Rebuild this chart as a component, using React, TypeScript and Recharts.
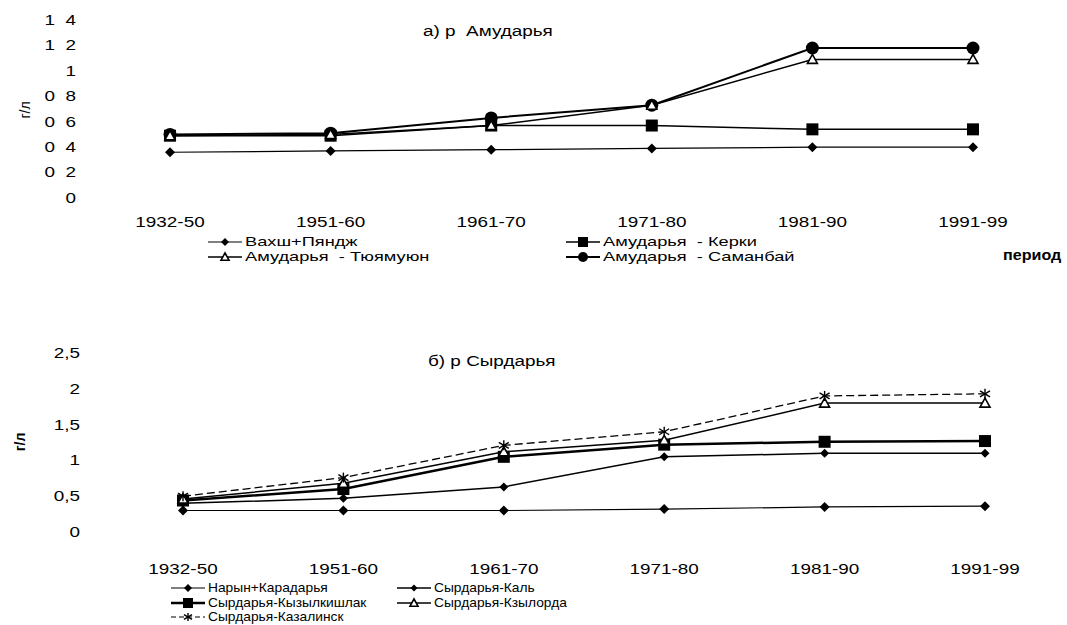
import React from "react";
import { Line, LineChart, XAxis, YAxis } from "recharts";

const periods = ["1932-50", "1951-60", "1961-70", "1971-80", "1981-90", "1991-99"];

// а) р. Амударья, г/л
const amuNames = ["Вахш+Пяндж", "Амударья  - Керки", "Амударья  - Тюямуюн", "Амударья  - Саманбай"];
const vakhshPyandzh = [0.36, 0.37, 0.38, 0.39, 0.4, 0.4];
const amuKerki = [0.49, 0.49, 0.57, 0.57, 0.54, 0.54];
const amuTyuyamuyun = [0.49, 0.5, 0.57, 0.73, 1.09, 1.09];
const amuSamanbai = [0.5, 0.51, 0.63, 0.73, 1.18, 1.18];
const amuTicks = [0, 0.2, 0.4, 0.6, 0.8, 1, 1.2, 1.4];
const amuTickLabels = ["0", "0 2", "0 4", "0 6", "0 8", "1", "1 2", "1 4"];

// б) р. Сырдарья, г/л
const syrNames = ["Нарын+Карадарья", "Сырдарья-Каль", "Сырдарья-Кызылкишлак", "Сырдарья-Кзылорда", "Сырдарья-Казалинск"];
const narynKaradarya = [0.3, 0.3, 0.3, 0.32, 0.35, 0.36];
const syrKal = [0.4, 0.47, 0.63, 1.05, 1.1, 1.1];
const syrKyzylkishlak = [0.44, 0.6, 1.05, 1.22, 1.26, 1.27];
const syrKzylorda = [0.46, 0.68, 1.12, 1.28, 1.8, 1.8];
const syrKazalinsk = [0.5, 0.76, 1.21, 1.4, 1.9, 1.93];
const syrTicks = [0, 0.5, 1, 1.5, 2, 2.5];
const syrTickLabels = ["0", "0,5", "1", "1,5", "2", "2,5"];

const amuData = periods.map((p, i) => ({
  period: p,
  a0: vakhshPyandzh[i],
  a1: amuKerki[i],
  a2: amuTyuyamuyun[i],
  a3: amuSamanbai[i]
}));

const syrData = periods.map((p, i) => ({
  period: p,
  s0: narynKaradarya[i],
  s1: syrKal[i],
  s2: syrKyzylkishlak[i],
  s3: syrKzylorda[i],
  s4: syrKazalinsk[i]
}));

const FONT = "'Liberation Sans', Arial, sans-serif";
const STRETCH = 1.35;

type Shape = "diamond" | "square" | "triangle" | "circle" | "star";

function Marker({ shape, cx, cy, s }: { shape: Shape; cx: number; cy: number; s: number }) {
  if (shape === "diamond") {
    return <path d={`M${cx},${cy - s}L${cx + s},${cy}L${cx},${cy + s}L${cx - s},${cy}Z`} fill="#000" />;
  }
  if (shape === "square") {
    return <rect x={cx - s} y={cy - s} width={s * 2} height={s * 2} fill="#000" />;
  }
  if (shape === "triangle") {
    return (
      <path
        d={`M${cx},${cy - s}L${cx + s},${cy + s * 0.8}L${cx - s},${cy + s * 0.8}Z`}
        fill="#fff"
        stroke="#000"
        strokeWidth={1.6}
      />
    );
  }
  if (shape === "circle") {
    return <circle cx={cx} cy={cy} r={s} fill="#000" />;
  }
  return (
    <g stroke="#000" strokeWidth={1.4}>
      <line x1={cx} y1={cy - s} x2={cx} y2={cy + s} />
      <line x1={cx - s} y1={cy - s * 0.6} x2={cx + s} y2={cy + s * 0.6} />
      <line x1={cx - s} y1={cy + s * 0.6} x2={cx + s} y2={cy - s * 0.6} />
    </g>
  );
}

const dotOf = (shape: Shape, s: number) => (p: any) =>
  <Marker key={`d-${p.index}`} shape={shape} cx={p.cx} cy={p.cy} s={s} />;

const XTick = ({ x, y, payload, dy }: any) => (
  <g transform={`translate(${x},${y + dy})`}>
    <text transform={`scale(${STRETCH},1)`} textAnchor="middle" fontFamily={FONT} fontSize={14} fill="#000">
      {payload.value}
    </text>
  </g>
);

const YTick = ({ x, y, payload, labels, ticks }: any) => {
  const idx = ticks.indexOf(payload.value);
  return (
    <g transform={`translate(${x},${y})`}>
      <text transform={`scale(${STRETCH},1)`} textAnchor="end" dy="0.35em" fontFamily={FONT} fontSize={14} fill="#000">
        {idx >= 0 ? labels[idx].replace(" ", "\u00a0\u00a0") : payload.value}
      </text>
    </g>
  );
};

const Stretched = ({
  children,
  style,
  scale = STRETCH
}: {
  children: React.ReactNode;
  style: React.CSSProperties;
  scale?: number;
}) => (
  <div
    style={{
      position: "absolute",
      fontFamily: FONT,
      fontSize: 13,
      lineHeight: "14px",
      whiteSpace: "pre",
      transform: `scaleX(${scale})`,
      transformOrigin: "left center",
      color: "#000",
      ...style
    }}
  >
    {children}
  </div>
);

interface LegendItem {
  name: string;
  shape: Shape;
  s: number;
  width: number;
  dash?: string;
}

const LegendRow = ({ item, left, top, scale }: { item: LegendItem; left: number; top: number; scale: number }) => (
  <>
    <svg style={{ position: "absolute", left, top: top - 7 }} width={36} height={14}>
      <line x1={1} y1={7} x2={35} y2={7} stroke="#000" strokeWidth={item.width} strokeDasharray={item.dash} />
      <Marker shape={item.shape} cx={18} cy={7} s={item.s} />
    </svg>
    <Stretched scale={scale} style={{ left: left + 38, top: top - 7, fontSize: 13.5 }}>
      {item.name}
    </Stretched>
  </>
);

const amuLegend: LegendItem[] = [
  { name: amuNames[0], shape: "diamond", s: 4, width: 1.2 },
  { name: amuNames[1], shape: "square", s: 5, width: 1.5 },
  { name: amuNames[2], shape: "triangle", s: 4, width: 1.5 },
  { name: amuNames[3], shape: "circle", s: 5, width: 2 }
];

const syrLegend: LegendItem[] = [
  { name: syrNames[0], shape: "diamond", s: 4, width: 1.2 },
  { name: syrNames[1], shape: "diamond", s: 3.5, width: 1.5 },
  { name: syrNames[2], shape: "square", s: 5, width: 2.5 },
  { name: syrNames[3], shape: "triangle", s: 4, width: 1.5 },
  { name: syrNames[4], shape: "star", s: 4, width: 1.2, dash: "5 3" }
];

export default function App() {
  return (
    <div style={{ position: "fixed", left: 0, top: 0, width: 1067, height: 625, background: "#fff" }}>
      {/* а) Амударья */}
      <div style={{ position: "absolute", left: 0, top: 0 }}>
        <LineChart width={1067} height={290} data={amuData} margin={{ top: 20, right: 94, left: 70, bottom: 62 }}>
          <XAxis
            dataKey="period"
            axisLine={false}
            tickLine={false}
            interval={0}
            height={30}
            tick={<XTick dy={21} />}
          />
          <YAxis
            domain={[0, 1.4]}
            ticks={amuTicks}
            axisLine={false}
            tickLine={false}
            width={100}
            tickMargin={88}
            tick={<YTick labels={amuTickLabels} ticks={amuTicks} />}
          />
          <Line dataKey="a0" stroke="#000" strokeWidth={1.2} dot={dotOf("diamond", 5)} isAnimationActive={false} />
          <Line dataKey="a1" stroke="#000" strokeWidth={1.5} dot={dotOf("square", 6)} isAnimationActive={false} />
          <Line dataKey="a3" stroke="#000" strokeWidth={2} dot={dotOf("circle", 6.5)} isAnimationActive={false} />
          <Line dataKey="a2" stroke="#000" strokeWidth={1.5} dot={dotOf("triangle", 5)} isAnimationActive={false} />
        </LineChart>
      </div>
      <Stretched style={{ left: 423, top: 24, fontSize: 14 }}>а) р  Амударья</Stretched>
      <div
        style={{
          position: "absolute",
          left: 10,
          top: 102,
          fontFamily: FONT,
          fontSize: 14,
          transform: "rotate(-90deg)",
          width: 30,
          textAlign: "center"
        }}
      >
        г/л
      </div>
      <LegendRow item={amuLegend[0]} left={207} top={242} scale={STRETCH} />
      <LegendRow item={amuLegend[2]} left={207} top={257} scale={STRETCH} />
      <LegendRow item={amuLegend[1]} left={565} top={242} scale={STRETCH} />
      <LegendRow item={amuLegend[3]} left={565} top={257} scale={STRETCH} />
      <Stretched scale={1.15} style={{ left: 1003, top: 248, fontSize: 14, fontWeight: 700 }}>
        период
      </Stretched>

      {/* б) Сырдарья */}
      <div style={{ position: "absolute", left: 0, top: 300 }}>
        <LineChart width={1067} height={325} data={syrData} margin={{ top: 53, right: 82, left: 83, bottom: 63 }}>
          <XAxis
            dataKey="period"
            axisLine={false}
            tickLine={false}
            interval={0}
            height={30}
            tick={<XTick dy={34} />}
          />
          <YAxis
            domain={[0, 2.5]}
            ticks={syrTicks}
            axisLine={false}
            tickLine={false}
            width={100}
            tickMargin={97}
            tick={<YTick labels={syrTickLabels} ticks={syrTicks} />}
          />
          <Line dataKey="s0" stroke="#000" strokeWidth={1.2} dot={dotOf("diamond", 5)} isAnimationActive={false} />
          <Line dataKey="s1" stroke="#000" strokeWidth={1.5} dot={dotOf("diamond", 4.5)} isAnimationActive={false} />
          <Line dataKey="s2" stroke="#000" strokeWidth={2.5} dot={dotOf("square", 6)} isAnimationActive={false} />
          <Line dataKey="s3" stroke="#000" strokeWidth={1.5} dot={dotOf("triangle", 5)} isAnimationActive={false} />
          <Line
            dataKey="s4"
            stroke="#000"
            strokeWidth={1.3}
            strokeDasharray="8 4"
            dot={dotOf("star", 5)}
            isAnimationActive={false}
          />
        </LineChart>
      </div>
      <Stretched style={{ left: 428, top: 354, fontSize: 14 }}>б) р Сырдарья</Stretched>
      <div
        style={{
          position: "absolute",
          left: 5,
          top: 434,
          fontFamily: FONT,
          fontSize: 14,
          fontWeight: 700,
          transform: "rotate(-90deg)",
          width: 30,
          textAlign: "center"
        }}
      >
        г/л
      </div>
      <LegendRow item={syrLegend[0]} left={170} top={588} scale={1.02} />
      <LegendRow item={syrLegend[2]} left={170} top={603} scale={1.02} />
      <LegendRow item={syrLegend[4]} left={170} top={617} scale={1.02} />
      <LegendRow item={syrLegend[1]} left={396} top={588} scale={1.02} />
      <LegendRow item={syrLegend[3]} left={396} top={603} scale={1.02} />
    </div>
  );
}
